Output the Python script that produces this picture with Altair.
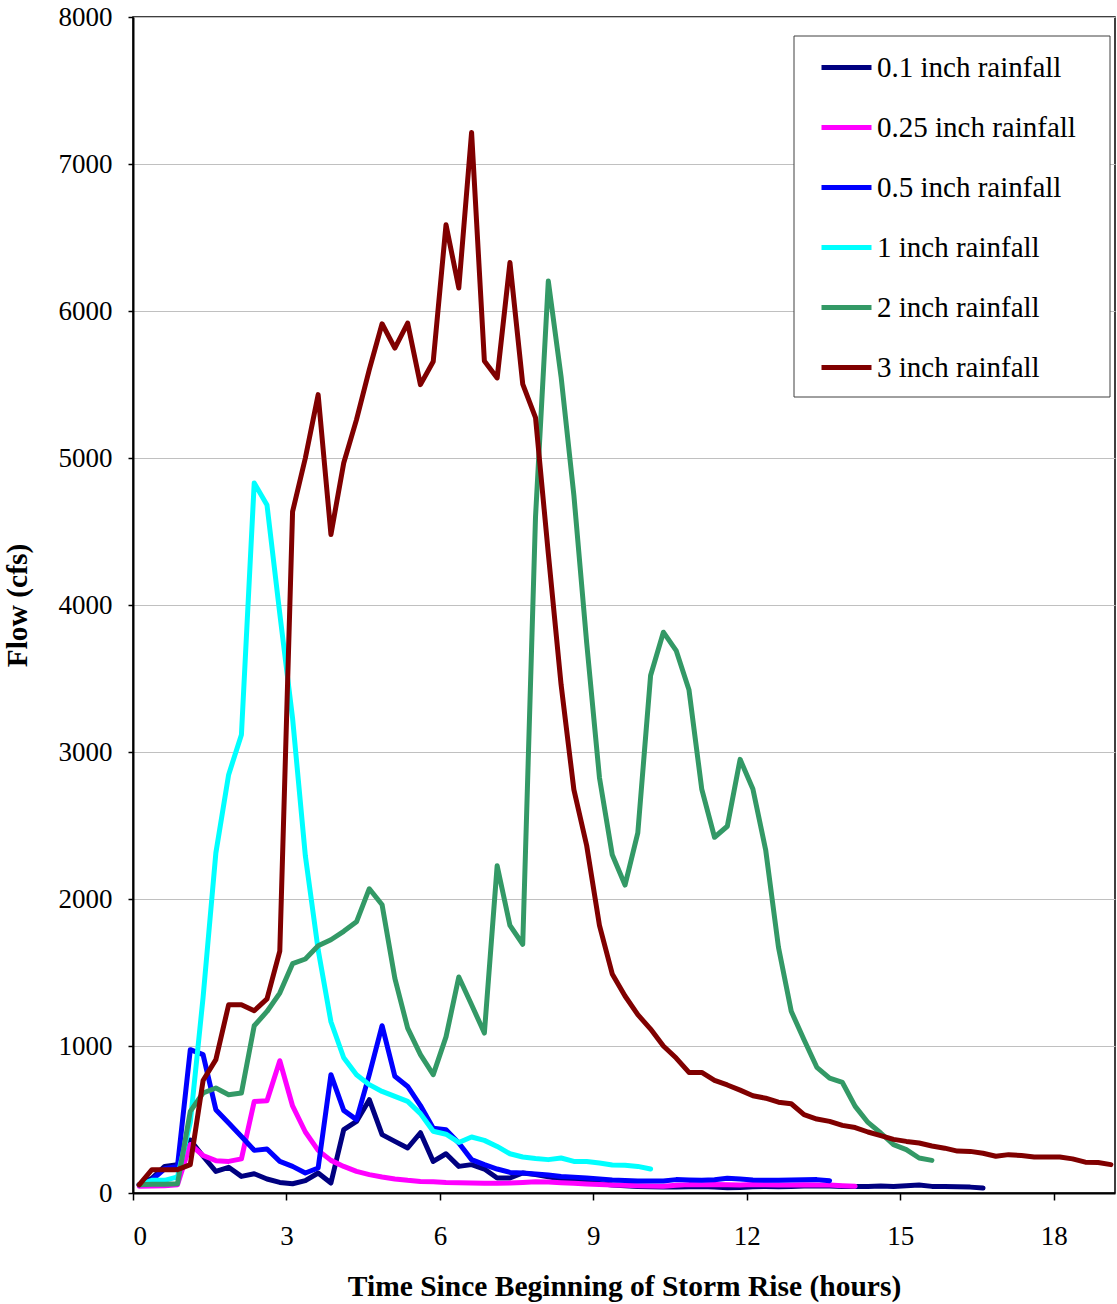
import altair as alt
import pandas as pd

SERIES = ["0.1 inch rainfall", "0.25 inch rainfall", "0.5 inch rainfall",
          "1 inch rainfall", "2 inch rainfall", "3 inch rainfall"]
COLORS = ["#000080", "#FF00FF", "#0000FF", "#00FFFF", "#339966", "#800000"]

# readings are taken every 15 minutes, starting just after t = 0
T0 = 0.12
STEP = 0.25

FLOW_01 = [56, 100, 181, 193, 360, 250, 147, 175, 113, 131,
           95, 72, 63, 84, 136, 68, 431, 487, 635, 397,
           351, 306, 410, 215, 267, 181, 193, 163, 102, 102,
           136, 125, 110, 95, 85, 75, 65, 55, 50, 45,
           42, 41, 40, 42, 45, 40, 36, 38, 42, 45,
           42, 45, 48, 50, 48, 45, 45, 45, 47, 45,
           50, 55, 45, 45, 42, 40, 34]
FLOW_025 = [46, 48, 50, 56, 330, 255, 220, 215, 232, 623,
            628, 900, 592, 415, 290, 222, 181, 147, 125, 109,
            95, 86, 79, 76, 72, 70, 68, 66, 66, 68,
            72, 76, 74, 70, 66, 62, 58, 55, 52, 50,
            48, 46, 52, 57, 56, 57, 56, 55, 57, 56,
            54, 55, 56, 55, 54, 50, 46]
FLOW_05 = [56, 90, 165, 181, 975, 941, 567, 476, 385, 290,
           299, 215, 181, 136, 170, 805, 562, 499, 805, 1138,
           794, 725, 595, 440, 430, 340, 227, 193, 163, 140,
           136, 130, 122, 113, 108, 102, 95, 88, 85, 82,
           82, 82, 91, 88, 86, 90, 100, 95, 88, 86,
           86, 88, 90, 91, 84]
FLOW_1 = [56, 86, 86, 110, 480, 1330, 2313, 2846, 3118, 4830,
          4680, 3940, 3230, 2293, 1655, 1165, 920, 805, 737, 691,
          657, 623, 540, 420, 400, 344, 381, 358, 317, 267,
          245, 234, 227, 238, 215, 215, 204, 190, 188, 181,
          163]
FLOW_2 = [56, 60, 60, 63, 555, 680, 714, 669, 680, 1138,
          1235, 1360, 1560, 1592, 1682, 1723, 1780, 1845, 2070, 1961,
          1460, 1122, 941, 805, 1062, 1469, 1281, 1088, 2226, 1820,
          1692, 4600, 6204, 5552, 4747, 3744, 2826, 2301, 2095, 2450,
          3520, 3815, 3690, 3424, 2748, 2420, 2495, 2950, 2748, 2334,
          1672, 1236, 1043, 855, 782, 752, 589, 480, 408, 329,
          295, 238, 222]
FLOW_3 = [56, 159, 159, 159, 193, 765, 907, 1281, 1281, 1240,
          1320, 1645, 4635, 5000, 5431, 4480, 4966, 5261, 5601, 5913,
          5748, 5918, 5499, 5657, 6587, 6156, 7215, 5660, 5545, 6330,
          5503, 5275, 4350, 3458, 2744, 2364, 1820, 1490, 1340, 1213,
          1115, 1000, 918, 820, 820, 766, 735, 700, 662, 645,
          618, 607, 533, 503, 487, 460, 445, 415, 390, 365,
          351, 340, 320, 305, 285, 283, 270, 250, 261, 255,
          245, 245, 245, 232, 210, 208, 193]

X_TICKS = [0, 3, 6, 9, 12, 15, 18]
Y_TICKS = [0, 1000, 2000, 3000, 4000, 5000, 6000, 7000, 8000]

rows = []
for name, vals in zip(SERIES, [FLOW_01, FLOW_025, FLOW_05, FLOW_1, FLOW_2, FLOW_3]):
    for k, v in enumerate(vals):
        rows.append({"series": name, "time": round(T0 + STEP * k, 3), "flow": v})
df = pd.DataFrame(rows)

FONT = "Liberation Serif"
W, H = 982, 1176

lines = alt.Chart(df).mark_line(strokeWidth=5, strokeJoin="round", strokeCap="round").encode(
    x=alt.X("time:Q",
            scale=alt.Scale(domain=[0, 19.2], nice=False, zero=False),
            axis=alt.Axis(values=X_TICKS, title="Time Since Beginning of Storm Rise (hours)",
                          grid=False, tickSize=7, labelPadding=23, titlePadding=23)),
    y=alt.Y("flow:Q",
            scale=alt.Scale(domain=[0, 8000], nice=False),
            axis=alt.Axis(values=Y_TICKS, format="d", title="Flow (cfs)", grid=True,
                          tickSize=5, labelPadding=16, titlePadding=26)),
    color=alt.Color("series:N",
                    scale=alt.Scale(domain=SERIES, range=COLORS),
                    legend=alt.Legend(title=None, orient="none", legendX=686, legendY=23,
                                      symbolType="stroke", symbolSize=2500,
                                      symbolStrokeWidth=5, rowPadding=17,
                                      labelFont=FONT, labelFontSize=29, labelColor="black",
                                      labelOffset=3, labelLimit=500, padding=0)),
)

box = alt.Chart(pd.DataFrame({"a": [0]})).mark_rect(
    fill="white", stroke="#404040", strokeWidth=1
).encode(x=alt.value(661), x2=alt.value(977), y=alt.value(19), y2=alt.value(380))

chart = alt.layer(lines, box).properties(
    width=W, height=H,
    autosize=alt.AutoSizeParams(type="none"),
    padding={"left": 133, "top": 17, "right": 2, "bottom": 111},
    background="white",
).configure_view(
    stroke="black", strokeWidth=1.5
).configure_axis(
    domainColor="black", domainWidth=2, tickColor="black", tickWidth=1.5,
    labelFont=FONT, labelFontSize=27, labelColor="black",
    titleFont=FONT, titleFontSize=29.5, titleFontWeight="bold", titleColor="black",
    gridColor="#c0c0c0", gridWidth=1,
)

chart.save("out.html", embed_options={"renderer": "svg", "actions": False})
